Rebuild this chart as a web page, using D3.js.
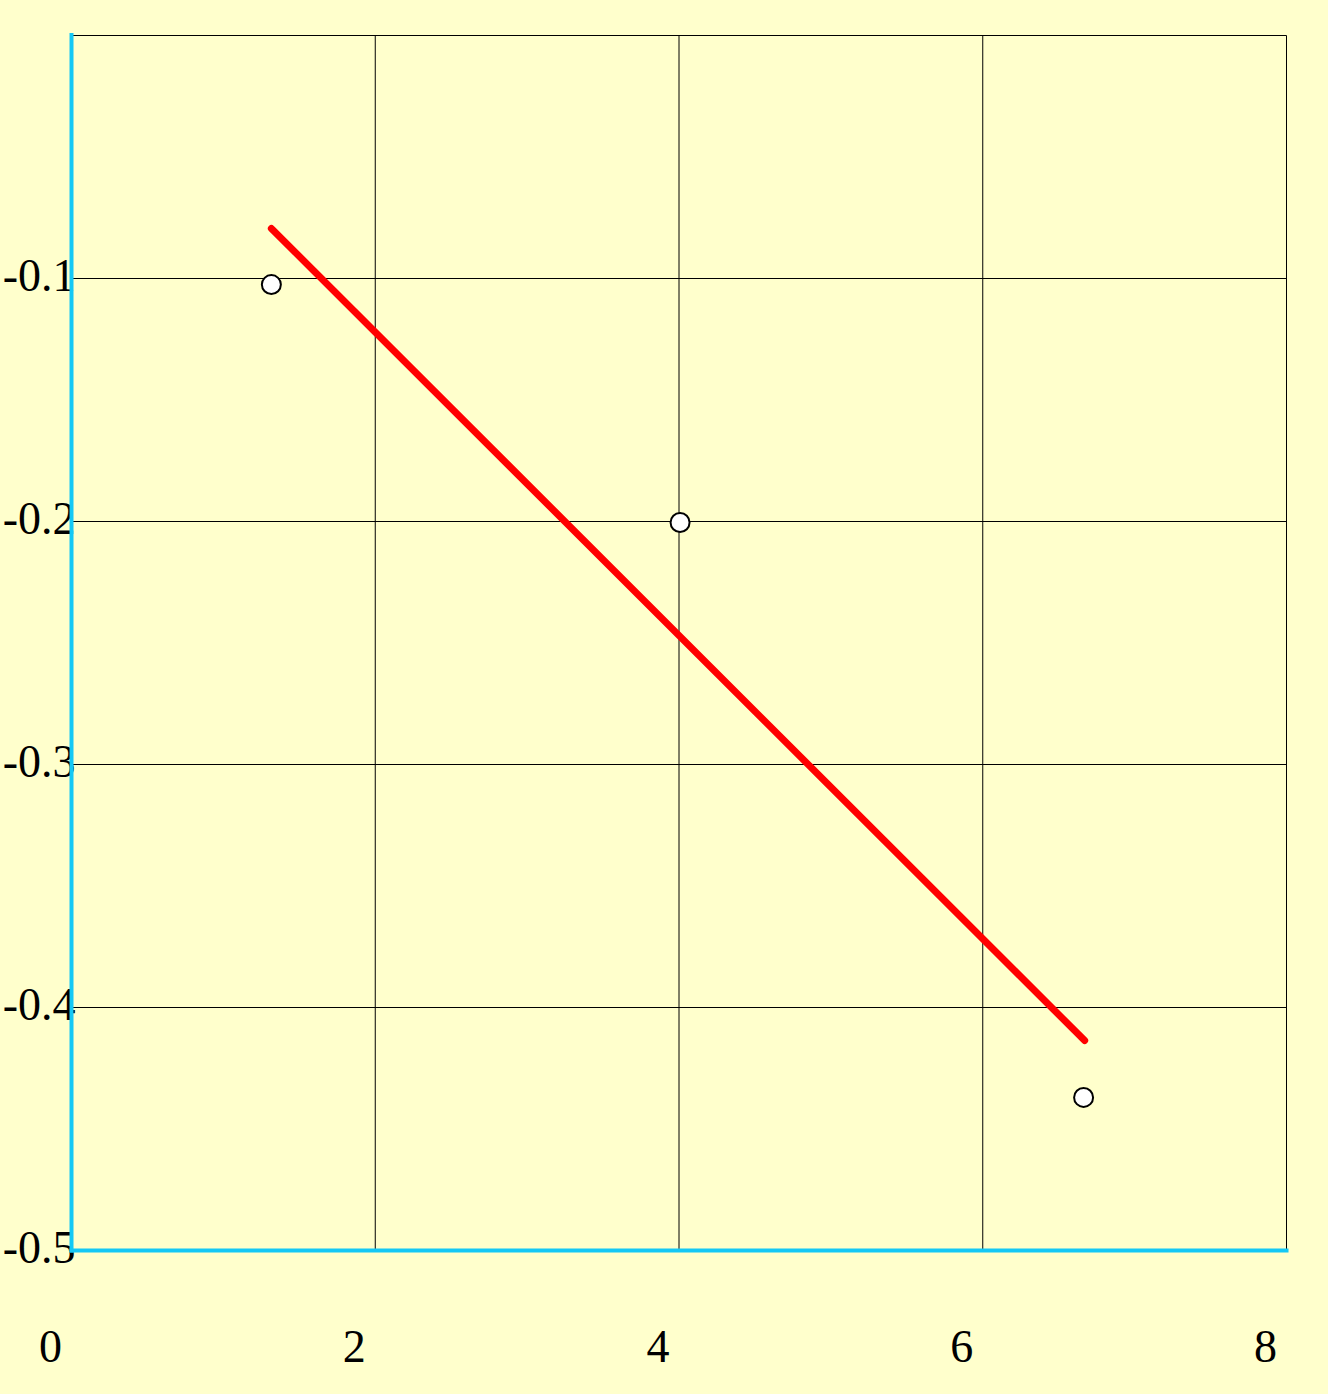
<!DOCTYPE html>
<html><head><meta charset="utf-8">
<script src="https://cdn.jsdelivr.net/npm/d3@7"></script>
<style>body{margin:0;background:#FFFFCC;}svg{display:block;}</style>
</head><body>
<svg id="chart" width="1328" height="1394"></svg>
<script>
const xTicks = [0, 2, 4, 6, 8];
const yTicks = [-0.1, -0.2, -0.3, -0.4, -0.5];
const pointsX = [1.316, 4.007, 6.664];
const pointsY = [-0.1025, -0.2004, -0.437];
const fitX = [1.316, 6.671];
const fitY = [-0.0794, -0.4136];

const svg = d3.select("#chart");
svg.append("rect").attr("width",1328).attr("height",1394).attr("fill","#FFFFCC");
const x = d3.scaleLinear().domain([0,8]).range([71.5,1286.5]);
const y = d3.scaleLinear().domain([-0.5,0]).range([1250.5,35.5]);

const g = svg.append("g");
// grid
g.selectAll(".vg").data([2,4,6,8]).join("line")
  .attr("x1",d=>x(d)).attr("x2",d=>x(d)).attr("y1",y(0)).attr("y2",y(-0.5))
  .attr("stroke","#000").attr("stroke-width",1);
g.selectAll(".hg").data([0,-0.1,-0.2,-0.3,-0.4]).join("line")
  .attr("x1",x(0)).attr("x2",x(8)).attr("y1",d=>y(d)).attr("y2",d=>y(d))
  .attr("stroke","#000").attr("stroke-width",1);

// tick labels
g.selectAll(".yl").data(yTicks).join("text")
  .attr("x",x(0)+4).attr("y",d=>y(d)+12)
  .attr("text-anchor","end")
  .attr("font-family","'Liberation Serif', 'Times New Roman', serif")
  .attr("font-size",46).attr("fill","#000")
  .text(d=>d3.format(".1f")(d).replace("−","-"));
g.selectAll(".xl").data(xTicks).join("text")
  .attr("x",d=>x(d)-21).attr("y",1362)
  .attr("text-anchor","middle")
  .attr("font-family","'Liberation Serif', 'Times New Roman', serif")
  .attr("font-size",46).attr("fill","#000")
  .text(d=>d);

// axes (blue)
g.append("line").attr("x1",x(0)).attr("x2",x(0)).attr("y1",33).attr("y2",y(-0.5)+2)
  .attr("stroke","#14C8F5").attr("stroke-width",4);
g.append("line").attr("x1",x(0)-2).attr("x2",x(8)+2).attr("y1",y(-0.5)).attr("y2",y(-0.5))
  .attr("stroke","#14C8F5").attr("stroke-width",4);

// fit line
const fit = fitX.map((d,i)=>[d,fitY[i]]);
g.append("path").datum(fit)
  .attr("d",d3.line().x(d=>x(d[0])).y(d=>y(d[1])))
  .attr("stroke","#FF0000").attr("stroke-width",7).attr("stroke-linecap","round").attr("fill","none");

// points
const pts = pointsX.map((d,i)=>[d,pointsY[i]]);
g.selectAll(".pt").data(pts).join("circle")
  .attr("cx",d=>x(d[0])).attr("cy",d=>y(d[1])).attr("r",9.5)
  .attr("fill","#fff").attr("stroke","#000").attr("stroke-width",2);
</script>
</body></html>
